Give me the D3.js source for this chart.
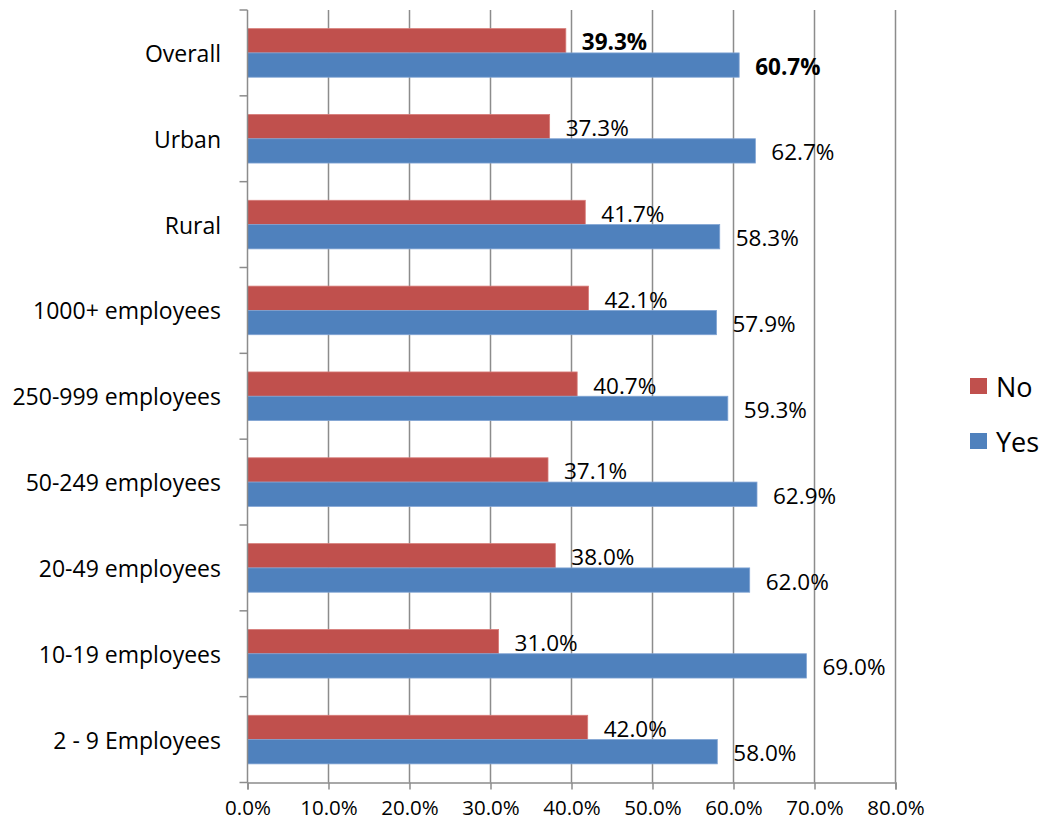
<!DOCTYPE html>
<html>
<head>
<meta charset="utf-8">
<script src="https://cdn.jsdelivr.net/npm/d3@7"></script>
<style>
  body { margin: 0; background: #fff; }
  text { font-family: "Open Sans", "Noto Sans", sans-serif; fill: #000; }
</style>
</head>
<body>
<svg id="chart" width="1039" height="822"></svg>
<script>
const categories = ["Overall", "Urban", "Rural", "1000+ employees", "250-999 employees",
  "50-249 employees", "20-49 employees", "10-19 employees", "2 - 9 Employees"];
const noValues  = [39.3, 37.3, 41.7, 42.1, 40.7, 37.1, 38.0, 31.0, 42.0];
const yesValues = [60.7, 62.7, 58.3, 57.9, 59.3, 62.9, 62.0, 69.0, 58.0];
const seriesNames = ["No", "Yes"];
const seriesColors = ["#C0504D", "#4F81BD"];
const xTicks = [0, 10, 20, 30, 40, 50, 60, 70, 80];

const svg = d3.select("#chart");
const pLeft = 247.5, pRight = 895.5, pTop = 10, pBottom = 782.5;

const x = d3.scaleLinear().domain([0, 80]).range([pLeft, pRight]);
const y = d3.scaleBand().domain(categories).range([pTop, pBottom]).paddingInner(0.434).paddingOuter(0.217);
const sub = d3.scaleBand().domain(seriesNames).range([0, y.bandwidth()]);

// gridlines
svg.append("g").selectAll("line").data(xTicks.slice(1)).join("line")
  .attr("x1", d => x(d)).attr("x2", d => x(d))
  .attr("y1", pTop).attr("y2", pBottom)
  .attr("stroke", "#8c8c8c").attr("stroke-width", 1.5);

// bars
const rows = categories.map((c, i) => ({ c, vals: [noValues[i], yesValues[i]], i }));
const g = svg.append("g");
rows.forEach(r => {
  r.vals.forEach((v, k) => {
    g.append("rect")
      .attr("x", x(0))
      .attr("y", y(r.c) + sub(seriesNames[k]))
      .attr("width", x(v) - x(0))
      .attr("height", sub.bandwidth())
      .attr("fill", seriesColors[k])
      .attr("stroke", k === 0 ? "#d77b78" : "#7fa3d3")
      .attr("stroke-width", 0.8);
    g.append("text")
      .attr("x", x(v) + 16)
      .attr("y", y(r.c) + sub(seriesNames[k]) + sub.bandwidth() / 2 + 1)
      .attr("dominant-baseline", "central")
      .attr("font-size", 22.5)
      .attr("font-weight", r.i === 0 ? "bold" : "normal")
      .text(v.toFixed(1) + "%");
  });
});

// x axis
const xAxis = d3.axisBottom(x).tickValues(xTicks).tickSize(7).tickFormat(d => d.toFixed(1) + "%");
const xg = svg.append("g").attr("transform", `translate(0,${pBottom})`).call(xAxis);
xg.select(".domain").attr("stroke", "#8c8c8c").attr("stroke-width", 1.5);
xg.selectAll(".tick line").attr("stroke", "#8c8c8c").attr("stroke-width", 1.5);
xg.selectAll(".tick text").attr("font-size", 20.5).attr("y", 25).attr("dy", "0.35em")
  .attr("font-family", "Open Sans").attr("fill", "#000");

// y axis
const boundaries = categories.map(c => y(c) - y.step() * y.paddingInner() / 2).concat([pBottom]);
const yg = svg.append("g");
yg.append("line").attr("x1", pLeft).attr("x2", pLeft).attr("y1", pTop).attr("y2", pBottom)
  .attr("stroke", "#8c8c8c").attr("stroke-width", 1.5);
yg.selectAll("line.tk").data(boundaries).join("line").attr("class", "tk")
  .attr("x1", pLeft - 8).attr("x2", pLeft).attr("y1", d => d).attr("y2", d => d)
  .attr("stroke", "#8c8c8c").attr("stroke-width", 1.5);
yg.selectAll("text").data(categories).join("text")
  .attr("x", 221).attr("y", d => y(d) + y.bandwidth() / 2)
  .attr("text-anchor", "end").attr("dominant-baseline", "central")
  .attr("font-size", 23).text(d => d);

// legend
const lg = svg.append("g");
seriesNames.forEach((s, k) => {
  const ly = 386 + k * 55;
  lg.append("rect").attr("x", 970).attr("y", ly - 8).attr("width", 17).attr("height", 16).attr("fill", seriesColors[k]);
  lg.append("text").attr("x", 996).attr("y", ly).attr("dominant-baseline", "central")
    .attr("font-size", 27).text(s);
});
</script>
</body>
</html>
